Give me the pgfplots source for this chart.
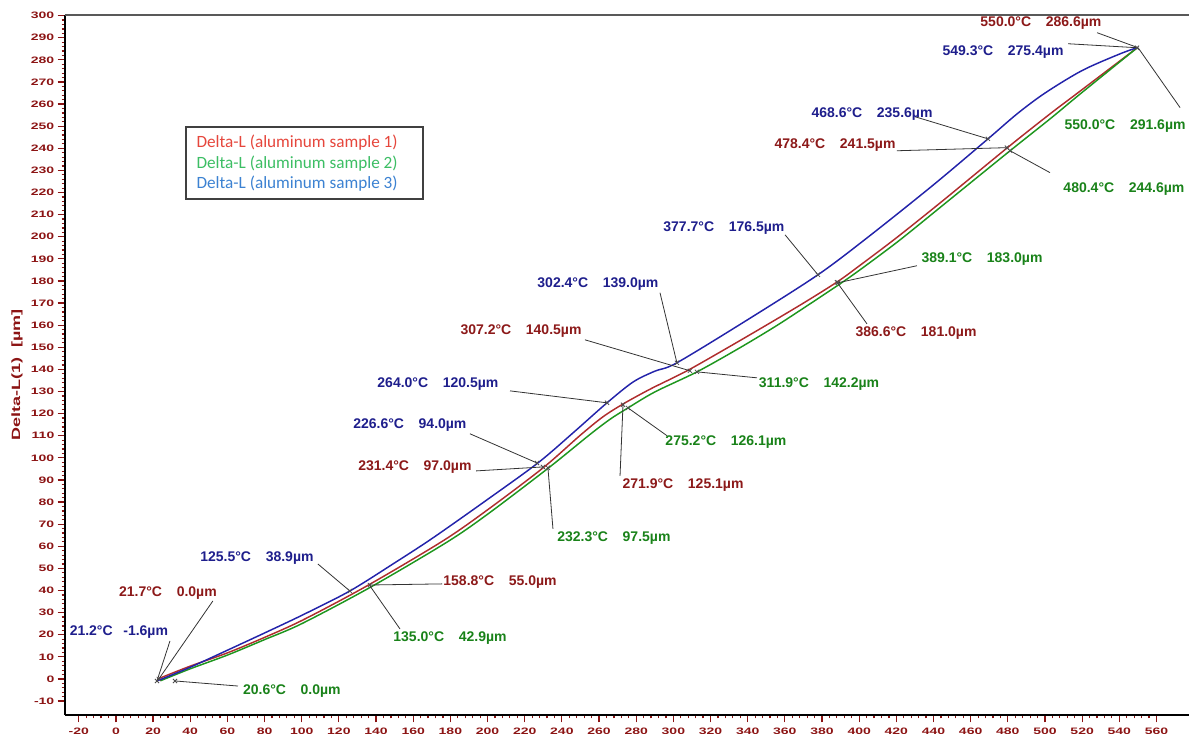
\documentclass[border=0pt]{standalone}
\usepackage{fontspec}
\setmainfont{Liberation Sans}
\newfontfamily\legfont{Carlito}
\newfontfamily\tickfont[FakeStretch=1.5]{Liberation Sans}
\usepackage{pgfplots}
\usepackage{pgfplotstable}
\pgfplotsset{compat=1.18}
\definecolor{lblue}{RGB}{35,35,170}
\definecolor{lred}{RGB}{175,45,45}
\definecolor{lgreen}{RGB}{30,150,30}
\definecolor{tblue}{RGB}{30,30,140}
\definecolor{tred}{RGB}{140,25,25}
\definecolor{tgreen}{RGB}{25,130,25}
\definecolor{tickc}{RGB}{140,20,20}
\definecolor{legred}{RGB}{230,70,60}
\definecolor{leggreen}{RGB}{60,190,100}
\definecolor{legblue}{RGB}{60,130,210}

\pgfplotstableread{
x y
22.5 0
40 5.8
60 11.8
80 18.8
100.7 26.7
135.1 42.1
175.9 62.4
200 76.5
229.9 95.5
250 110.3
262 118.5
273.0 124.4
288 131.3
307.4 139.4
330 150.2
350 160.0
370 170.0
388.2 179.6
400 186.8
420 199.5
445 216.3
479.8 240.3
502.9 255.7
519.1 266.0
549.5 285.4
}\sampleone

\pgfplotstableread{
x y
24 -0.8
40 4.6
60 10.8
80 17.8
100 25.0
137 41.5
178 61.8
200 74.5
232.9 95.5
255 110.5
266 117.5
275.6 122.6
290 129.8
312.7 138.9
335 149.4
355 159.5
372 168.8
389.7 178.7
402 186.0
422 198.6
447 215.6
481.2 238.9
503 253.5
519.1 264.7
549.5 285.4
}\sampletwo

\pgfplotstableread{
x y
22.1 -0.9
40 5.3
60 13.0
80 20.8
100.6 29.0
125.9 39.8
150 52.5
170.6 63.8
200 81.2
227.1 97.7
246 111.3
264.3 124.9
278.3 134.3
290 139.2
301.9 143.0
340 162.5
377.8 182.8
405 200.0
440 223.5
468.8 243.9
485 255.6
500 265.0
520 275.2
540 282.6
549.5 285.5
}\samplethree

\begin{document}
\begin{tikzpicture}
\begin{axis}[
  at={(48.75pt,13.5pt)}, anchor=south west,
  scale only axis, width=843pt, height=525pt,
  xmin=-27.4, xmax=577.5, ymin=-16.3, ymax=300.3,
  clip=false,
  axis x line*=bottom, axis y line*=left,
  axis line style={black, line width=1.6pt},
  xtick={-20,0,...,560}, minor x tick num=4,
  ytick={-10,0,...,300}, minor y tick num=4,
  tick align=outside,
  major tick length=5.5pt, minor tick length=2.5pt,
  every tick/.style={tickc, line width=0.9pt},
  /pgf/number format/assume math mode=true,
  tick label style={text=tickc, font=\tickfont\bfseries\fontsize{7}{8}\selectfont},
  xticklabel style={yshift=-1pt},
  yticklabel style={xshift=1pt},
  every axis y label/.style={at={(axis description cs:-0.0427,0.486)}, rotate=90, anchor=center},
  ylabel={Delta-L(1)\hspace{7pt}[µm]},
  ylabel style={text=tickc, font=\tickfont\bfseries\fontsize{9}{10}\selectfont},
  legend image code/.code={},
  legend style={at={(rel axis cs:0.1068,0.841)}, anchor=north west,
    draw=black!75, line width=1.3pt,
    font=\legfont\fontsize{12.9}{14}\selectfont,
    inner xsep=6pt, inner ysep=4pt, row sep=0.5pt,
    cells={anchor=west}},
  legend cell align=left,
]
\draw[black!65, line width=1.6pt] (rel axis cs:0,1) -- (rel axis cs:1,1);

\addplot[lred, line width=1.1pt, smooth, tension=0.5] table {\sampleone};
\addlegendentry{\makebox[162pt][l]{\textcolor{legred}{Delta-L (aluminum sample 1)}}}
\addplot[lgreen, line width=1.1pt, smooth, tension=0.5] table {\sampletwo};
\addlegendentry{\makebox[162pt][l]{\textcolor{leggreen}{Delta-L (aluminum sample 2)}}}
\addplot[lblue, line width=1.1pt, smooth, tension=0.5] table {\samplethree};
\addlegendentry{\makebox[162pt][l]{\textcolor{legblue}{Delta-L (aluminum sample 3)}}}

% leader lines
\pgfplotsset{every axis plot/.append style={forget plot}}
\addplot[black!80, line width=0.6pt] coordinates {(29.1,17.2) (22.1,-0.9)};
\addplot[black!80, line width=0.6pt] coordinates {(108.7,52.0) (125.9,39.8)};
\addplot[black!80, line width=0.6pt] coordinates {(190.5,110.9) (226.6,97.7)};
\addplot[black!80, line width=0.6pt] coordinates {(212.1,130.3) (264.3,124.9)};
\addplot[black!80, line width=0.6pt] coordinates {(292.8,174.7) (301.9,143.0)};
\addplot[black!80, line width=0.6pt] coordinates {(360.1,200.9) (377.8,182.8)};
\addplot[black!80, line width=0.6pt] coordinates {(430.0,254.3) (469.3,244.3)};
\addplot[black!80, line width=0.6pt] coordinates {(512.4,287.3) (549.5,285.5)};

\addplot[black!80, line width=0.6pt] coordinates {(52.2,35.3) (23.1,0)};
\addplot[black!80, line width=0.6pt] coordinates {(175.5,43.0) (136.7,42.5)};
\addplot[black!80, line width=0.6pt] coordinates {(193.8,94.1) (229.8,95.9)};
\addplot[black!80, line width=0.6pt] coordinates {(271.3,91.9) (272.9,124.0)};
\addplot[black!80, line width=0.6pt] coordinates {(252.4,153.4) (308.9,139.4)};
\addplot[black!80, line width=0.6pt] coordinates {(404.2,160.6) (388.1,179.4)};
\addplot[black!80, line width=0.6pt] coordinates {(420.3,238.9) (479.5,240.3)};
\addplot[black!80, line width=0.6pt] coordinates {(528.0,292.3) (550.1,285.5)};

\addplot[black!80, line width=0.6pt] coordinates {(65.7,-3.2) (31.8,-0.9)};
\addplot[black!80, line width=0.6pt] coordinates {(152.9,22.6) (136.7,42.1)};
\addplot[black!80, line width=0.6pt] coordinates {(235.2,67.9) (232.5,95.5)};
\addplot[black!80, line width=0.6pt] coordinates {(296.6,110.0) (275.6,122.6)};
\addplot[black!80, line width=0.6pt] coordinates {(345.0,136.2) (312.7,138.9)};
\addplot[black!80, line width=0.6pt] coordinates {(431.1,186.9) (388.6,179.2)};
\addplot[black!80, line width=0.6pt] coordinates {(502.7,229.0) (481.2,238.9)};
\addplot[black!80, line width=0.6pt] coordinates {(572.7,258.4) (550.1,285.5)};

% point markers
\addplot[only marks, mark=x, mark size=2.2pt, black!70, mark options={line width=0.6pt}] coordinates {
(22.1,-0.9) (125.9,39.8) (226.6,97.7) (264.3,124.9) (301.9,143.0) (377.8,182.8) (469.3,244.3) (549.5,285.5)
(23.1,0) (136.7,42.5) (229.8,95.9) (272.9,124.0) (308.9,139.4) (388.1,179.4) (479.5,240.3)
(31.8,-0.9) (232.5,95.5) (275.6,122.6) (312.7,138.9) (388.6,179.2) (481.2,238.9)
};

\tikzset{ann/.style={font=\bfseries\fontsize{10.5}{12}\selectfont, inner sep=0pt}}
\def\gap{\hspace{11pt}}
% blue annotations
\node[ann, text=tblue] at (axis cs:1.6,21.3) {21.2°C\hspace{8pt}-1.6µm};
\node[ann, text=tblue] at (axis cs:75.9,54.8) {125.5°C\gap 38.9µm};
\node[ann, text=tblue] at (axis cs:158.2,114.9) {226.6°C\gap 94.0µm};
\node[ann, text=tblue] at (axis cs:173.3,133.5) {264.0°C\gap 120.5µm};
\node[ann, text=tblue] at (axis cs:259.4,178.7) {302.4°C\gap 139.0µm};
\node[ann, text=tblue] at (axis cs:327.2,204.1) {377.7°C\gap 176.5µm};
\node[ann, text=tblue] at (axis cs:406.9,255.7) {468.6°C\gap 235.6µm};
\node[ann, text=tblue] at (axis cs:477.4,283.7) {549.3°C\gap 275.4µm};
% red annotations
\node[ann, text=tred] at (axis cs:28.0,38.9) {21.7°C\gap 0.0µm};
\node[ann, text=tred] at (axis cs:206.7,43.9) {158.8°C\gap 55.0µm};
\node[ann, text=tred] at (axis cs:160.9,95.9) {231.4°C\gap 97.0µm};
\node[ann, text=tred] at (axis cs:305.2,87.8) {271.9°C\gap 125.1µm};
\node[ann, text=tred] at (axis cs:218.0,157.5) {307.2°C\gap 140.5µm};
\node[ann, text=tred] at (axis cs:430.6,156.6) {386.6°C\gap 181.0µm};
\node[ann, text=tred] at (axis cs:387.0,241.6) {478.4°C\gap 241.5µm};
\node[ann, text=tred] at (axis cs:497.8,296.8) {550.0°C\gap 286.6µm};
% green annotations
\node[ann, text=tgreen] at (axis cs:94.7,-5.4) {20.6°C\gap 0.0µm};
\node[ann, text=tgreen] at (axis cs:179.8,18.6) {135.0°C\gap 42.9µm};
\node[ann, text=tgreen] at (axis cs:268.0,63.8) {232.3°C\gap 97.5µm};
\node[ann, text=tgreen] at (axis cs:328.3,107.2) {275.2°C\gap 126.1µm};
\node[ann, text=tgreen] at (axis cs:378.4,133.5) {311.9°C\gap 142.2µm};
\node[ann, text=tgreen] at (axis cs:466.1,190.0) {389.1°C\gap 183.0µm};
\node[ann, text=tgreen] at (axis cs:542.5,221.7) {480.4°C\gap 244.6µm};
\node[ann, text=tgreen] at (axis cs:543.1,250.2) {550.0°C\gap 291.6µm};
\end{axis}
\pgfresetboundingbox
\path[use as bounding box] (0,0) rectangle (891.75pt,549.75pt);
\end{tikzpicture}
\end{document}
